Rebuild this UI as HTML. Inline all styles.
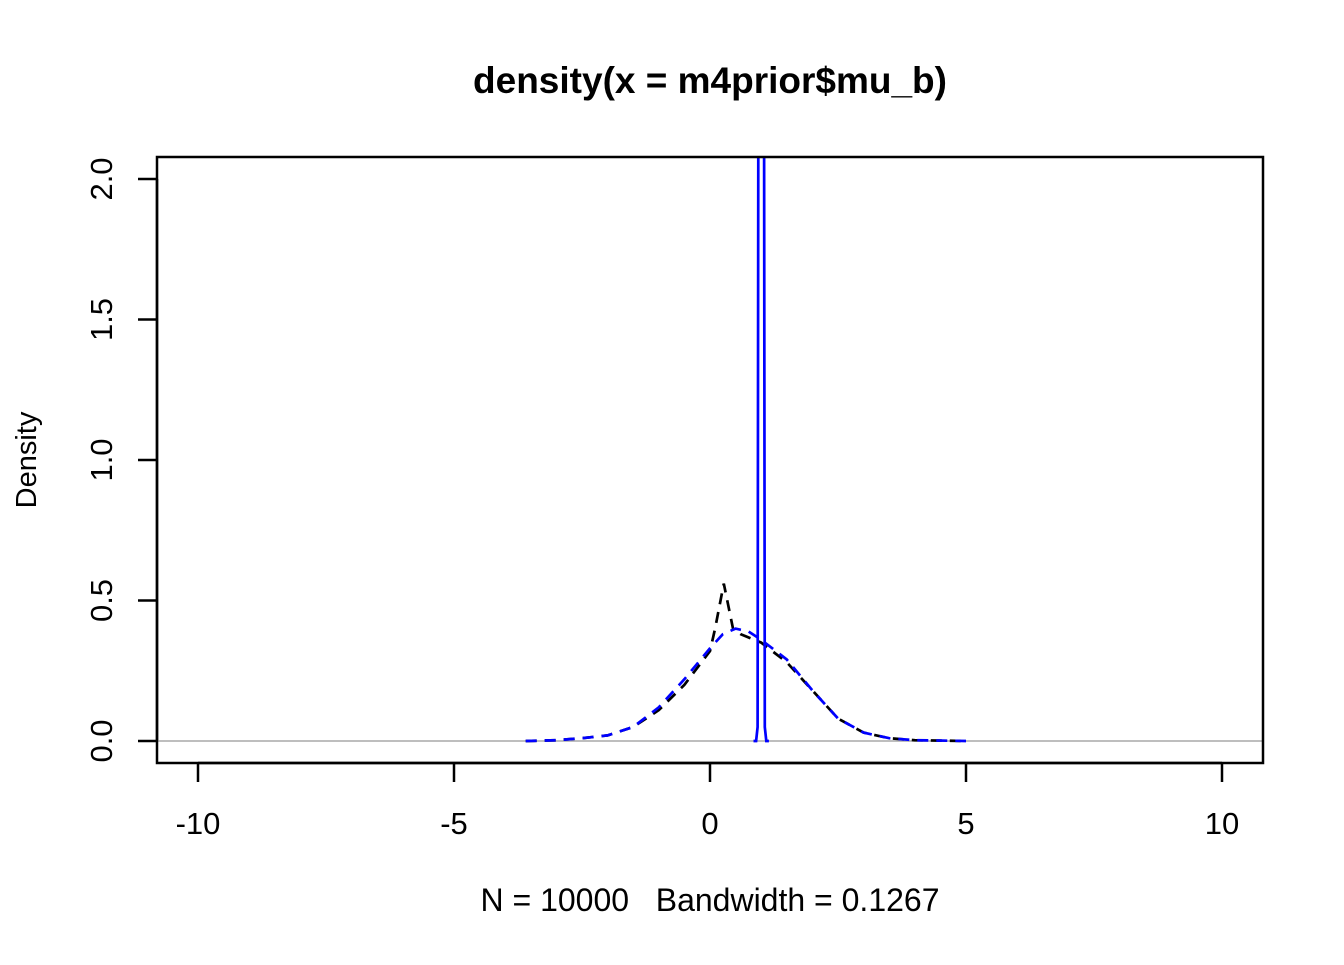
<!DOCTYPE html>
<html><head><meta charset="utf-8"><style>
body{margin:0;background:#fff}
text{font-family:"Liberation Sans",Arial,sans-serif}
</style></head><body>
<svg id="chart" width="1344" height="960" xmlns="http://www.w3.org/2000/svg">
<defs><clipPath id="clip"><rect x="157" y="157" width="1106" height="606"/></clipPath></defs>
<rect width="1344" height="960" fill="#fff"/>
<text x="710" y="93" font-size="37" font-weight="bold" text-anchor="middle">density(x = m4prior$mu_b)</text>
<text x="710" y="911" font-size="32" text-anchor="middle" xml:space="preserve" style="white-space:pre">N = 10000   Bandwidth = 0.1267</text>
<text transform="translate(36,460) rotate(-90)" font-size="29" text-anchor="middle">Density</text>
<g id="axes"></g>
<g id="marks" clip-path="url(#clip)"></g>
<rect x="157" y="157" width="1106" height="606" fill="none" stroke="#000" stroke-width="2.5"/>
</svg>
<script>
const xTicks=[-10,-5,0,5,10];
const yTicks=[0,0.5,1,1.5,2];
const yTickLabels=["0.0","0.5","1.0","1.5","2.0"];
const blackX=[-3.6,-3,-2.5,-2,-1.5,-1,-0.5,0,0.1,0.27,0.45,0.6,1,1.5,2,2.5,3,3.5,4,5];
const blackY=[0,0.003,0.01,0.02,0.05,0.11,0.2,0.32,0.4,0.56,0.4,0.38,0.35,0.28,0.18,0.08,0.03,0.01,0.003,0];
const blueDX=[-3.6,-3,-2.5,-2,-1.5,-1,-0.5,0,0.25,0.5,0.75,1,1.5,2,2.5,3,3.5,4,5];
const blueDY=[0,0.003,0.01,0.02,0.05,0.12,0.22,0.33,0.38,0.4,0.39,0.36,0.29,0.18,0.08,0.03,0.01,0.003,0];
const spikeX=[0.85,0.9,0.93,0.95,1.05,1.07,1.1,1.15];
const spikeY=[0,0,0.05,3,3,0.05,0,0];
const sx=v=>710+v*51.2, sy=v=>741-v*281;
const NS="http://www.w3.org/2000/svg";
const axes=document.getElementById('axes'), marks=document.getElementById('marks');
function mk(tag,attrs,parent){const e=document.createElementNS(NS,tag);for(const k in attrs)e.setAttribute(k,attrs[k]);parent.appendChild(e);return e;}
let l=mk('line',{x1:sx(-10),x2:sx(10),y1:763,y2:763,stroke:'#000','stroke-width':2.5},axes);


xTicks.forEach(t=>{
 const tk=mk('line',{x1:sx(t),x2:sx(t),y1:763,y2:782,stroke:'#000','stroke-width':2.5},axes);
 
 
 const tx=mk('text',{x:sx(t),y:834,'font-size':31,'text-anchor':'middle'},axes);tx.textContent=t;
 
 
});
l=mk('line',{x1:157,x2:157,y1:sy(0),y2:sy(2),stroke:'#000','stroke-width':2.5},axes);


yTicks.forEach((t,i)=>{
 const tk=mk('line',{x1:138,x2:157,y1:sy(t),y2:sy(t),stroke:'#000','stroke-width':2.5},axes);
 
 
 const tx=mk('text',{transform:`translate(112,${sy(t)}) rotate(-90)`,'font-size':31,'text-anchor':'middle'},axes);tx.textContent=yTickLabels[i];
 
 
});
const zl=mk('line',{x1:157,x2:1263,y1:sy(0),y2:sy(0),stroke:'#bebebe','stroke-width':2},marks);


function path(xs,ys,color,dash,name){
 const d=xs.map((x,i)=>(i?'L':'M')+sx(x).toFixed(1)+','+sy(ys[i]).toFixed(1)).join('');
 const p=mk('path',{d:d,fill:'none',stroke:color,'stroke-width':2.7,'stroke-dasharray':dash},marks);
 
 
}
path(blackX,blackY,'#000','11,8','black-dashed-density');
path(blueDX,blueDY,'#0000ff','11,8','blue-dashed-density');
path(spikeX,spikeY,'#0000ff','none','blue-solid-density');
</script>
</body></html>
